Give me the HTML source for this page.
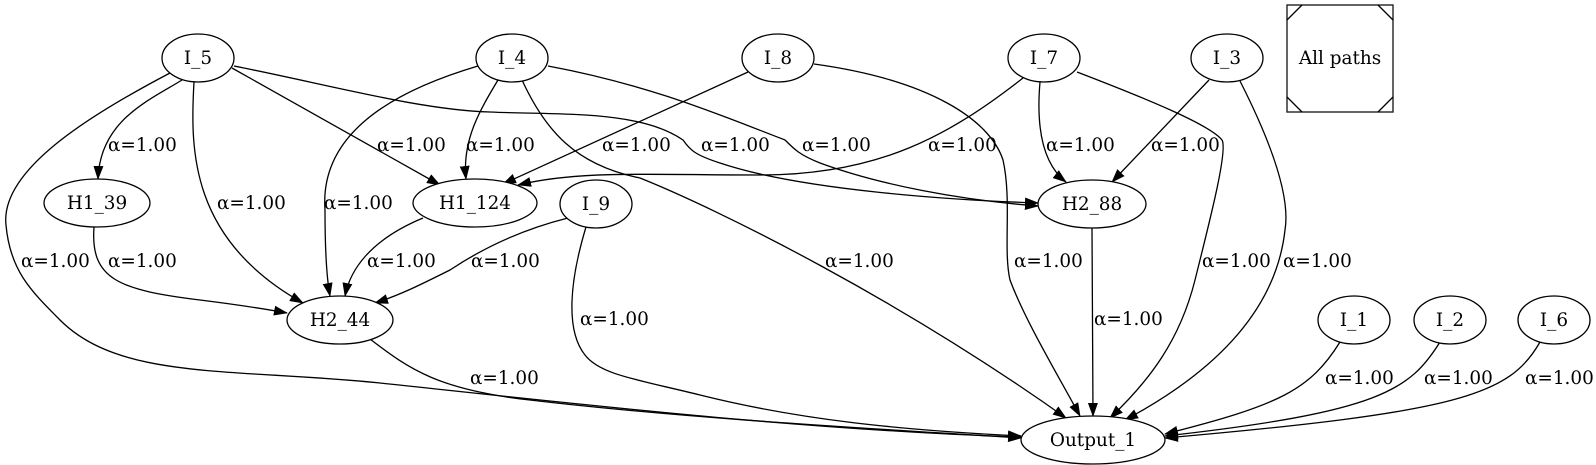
<!DOCTYPE html>
<html><head><meta charset="utf-8"><style>
html,body{margin:0;padding:0;background:#fff;}
svg{display:block;}
text{font-family:"DejaVu Serif","Liberation Serif",serif;font-size:18.4px;fill:#000;}
.e{fill:none;stroke:#000;stroke-width:1.3;}
.n{fill:#fff;stroke:#000;stroke-width:1.3;}
</style></head><body>
<svg width="1596" height="465" viewBox="0 0 1596 465">
<defs><marker id="ah" markerUnits="userSpaceOnUse" markerWidth="16" markerHeight="12" refX="13" refY="5" orient="auto"><polygon points="0,0 14,5 0,10" fill="#000"/></marker></defs>
<g marker-end="url(#ah)">
<path class="e" d="M182,80 C150,100 100,120 98,179"/>
<path class="e" d="M194,82 C190,150 190,240 303,303"/>
<path class="e" d="M170,73 C90,115 0,170 6,225 C10,270 30,290 60,320 C120,380 230,368 380,383 C560,402 800,430 1021,437"/>
<path class="e" d="M232,68 L440,185"/>
<path class="e" d="M234,66 C330,85 420,110 490,112 C560,115 640,110 683,140 C690,150 695,155 720,163 C800,190 950,200 1038,203"/>
<path class="e" d="M498,80 C480,110 462,140 466,179"/>
<path class="e" d="M478,66 C380,95 320,140 325,210 C325,250 327,280 330,296"/>
<path class="e" d="M522,80 C545,130 575,165 640,178 C720,210 900,300 1066,418"/>
<path class="e" d="M548,66 C650,85 720,115 785,140 C795,150 800,155 820,163 C880,185 960,200 1038,206"/>
<path class="e" d="M748,72 L503,184"/>
<path class="e" d="M814,64 C930,80 990,120 1003,160 C1012,200 1003,250 1010,280 C1025,320 1055,370 1080,416"/>
<path class="e" d="M1023,78 C950,135 880,175 760,175 C650,175 580,170 518,185"/>
<path class="e" d="M1040,82 C1035,140 1048,168 1066,182"/>
<path class="e" d="M1077,72 C1150,100 1210,125 1222,140 C1228,150 1210,220 1195,280 C1180,340 1150,380 1110,418"/>
<path class="e" d="M1209,80 L1112,182"/>
<path class="e" d="M1240,81 C1275,150 1290,200 1285,230 C1275,320 1200,380 1125,420"/>
<path class="e" d="M94,227 C90,280 120,290 200,300 C240,305 260,308 287,313"/>
<path class="e" d="M423,218 C370,240 350,270 345,296"/>
<path class="e" d="M568,218 C520,230 480,250 450,270 C420,285 400,295 375,303"/>
<path class="e" d="M586,227 C570,280 565,330 585,355 C600,375 640,380 700,395 C800,420 900,430 1021,436"/>
<path class="e" d="M1092,228 L1093,416"/>
<path class="e" d="M370,339 C410,370 440,390 530,400 C700,420 900,430 1021,438"/>
<path class="e" d="M1340,342 C1310,390 1280,405 1165,434"/>
<path class="e" d="M1440,342 C1410,390 1380,412 1165,436"/>
<path class="e" d="M1540,342 C1510,395 1460,412 1165,438"/>
</g>
<g>
<text x="108" y="151">α=1.00</text>
<text x="377" y="151">α=1.00</text>
<text x="466" y="151">α=1.00</text>
<text x="602" y="151">α=1.00</text>
<text x="701" y="151">α=1.00</text>
<text x="802" y="151">α=1.00</text>
<text x="928" y="151">α=1.00</text>
<text x="1046" y="151">α=1.00</text>
<text x="1151" y="151">α=1.00</text>
<text x="217" y="209">α=1.00</text>
<text x="324" y="209">α=1.00</text>
<text x="21" y="267">α=1.00</text>
<text x="108" y="267">α=1.00</text>
<text x="367" y="267">α=1.00</text>
<text x="471" y="267">α=1.00</text>
<text x="825" y="267">α=1.00</text>
<text x="1014" y="267">α=1.00</text>
<text x="1202" y="267">α=1.00</text>
<text x="1283" y="267">α=1.00</text>
<text x="580" y="325">α=1.00</text>
<text x="1094" y="325">α=1.00</text>
<text x="470" y="384">α=1.00</text>
<text x="1325" y="384">α=1.00</text>
<text x="1424" y="384">α=1.00</text>
<text x="1525" y="384">α=1.00</text>
</g>
<g text-anchor="middle">
<g><ellipse class="n" cx="198" cy="58" rx="36" ry="24"/><text x="198" y="64">I_5</text></g>
<g><ellipse class="n" cx="512" cy="58" rx="36" ry="24"/><text x="512" y="64">I_4</text></g>
<g><ellipse class="n" cx="778" cy="58" rx="36" ry="24"/><text x="778" y="64">I_8</text></g>
<g><ellipse class="n" cx="1044" cy="58" rx="36" ry="24"/><text x="1044" y="64">I_7</text></g>
<g><ellipse class="n" cx="1227" cy="58" rx="36" ry="24"/><text x="1227" y="64">I_3</text></g>
<g><rect x="1287" y="5" width="106" height="107" fill="#fff" stroke="#222" stroke-width="1.4"/><path d="M1287,20 L1302,5 M1378,5 L1393,20 M1287,97 L1302,112 M1378,112 L1393,97" stroke="#000" stroke-width="1.3" fill="none"/><text x="1340" y="64">All paths</text></g>
<g><ellipse class="n" cx="97" cy="203" rx="53" ry="24"/><text x="97" y="209">H1_39</text></g>
<g><ellipse class="n" cx="475" cy="203" rx="62" ry="24"/><text x="475" y="209">H1_124</text></g>
<g><ellipse class="n" cx="596" cy="204" rx="36" ry="24"/><text x="596" y="210">I_9</text></g>
<g><ellipse class="n" cx="1092" cy="204" rx="54" ry="24"/><text x="1092" y="210">H2_88</text></g>
<g><ellipse class="n" cx="340" cy="320" rx="53" ry="24"/><text x="340" y="326">H2_44</text></g>
<g><ellipse class="n" cx="1354" cy="320" rx="36" ry="24"/><text x="1354" y="326">I_1</text></g>
<g><ellipse class="n" cx="1450" cy="320" rx="36" ry="24"/><text x="1450" y="326">I_2</text></g>
<g><ellipse class="n" cx="1554" cy="320" rx="36" ry="24"/><text x="1554" y="326">I_6</text></g>
<g><ellipse class="n" cx="1093" cy="440" rx="72" ry="24"/><text x="1093" y="446">Output_1</text></g>
</g>
</svg>
</body></html>
